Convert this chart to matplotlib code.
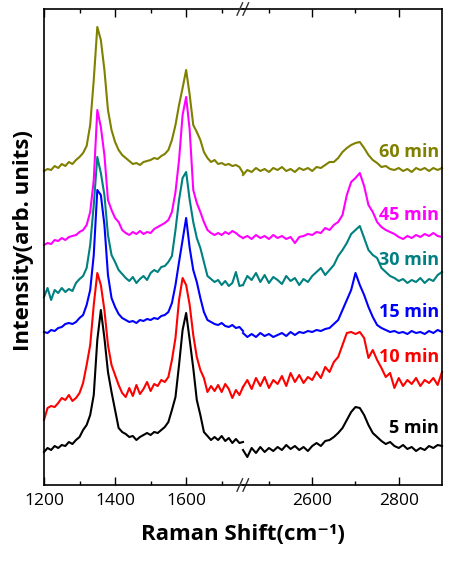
import matplotlib
matplotlib.use("Agg")
import matplotlib.pyplot as plt
import numpy as np

plt.rcParams['font.family'] = ['Open Sans', 'DejaVu Sans']

# Raman shift grids for the two halves of the broken axis
x_low = np.arange(1200, 1761, 10)
x_high = np.arange(2440, 2901, 10)

labels = ["5 min", "10 min", "15 min", "30 min", "45 min", "60 min"]
colors = ["#000000", "#ff0000", "#0000ff", "#008080", "#ff00ff", "#808000"]

# intensity (arb. units, offset stacked)
low_5 = [33, 37, 35, 39, 37, 40, 39, 43, 41, 45, 48, 55, 60, 70, 90, 145, 175, 147, 113, 93,
         75, 57, 53, 51, 48, 49, 45, 48, 50, 52, 50, 53, 52, 55, 58, 63, 75, 88, 120, 155,
         172, 145, 117, 85, 70, 53, 49, 45, 48, 45, 49, 44, 47, 42, 46, 42, 43]
low_10 = [65, 77, 79, 78, 82, 87, 85, 90, 84, 87, 92, 102, 120, 140, 180, 212, 200, 175, 140, 120,
          110, 100, 92, 88, 97, 89, 100, 91, 96, 103, 94, 101, 99, 105, 103, 108, 125, 147, 185, 207,
          200, 180, 150, 128, 115, 107, 93, 99, 94, 100, 93, 101, 96, 87, 95, 90, 98]
low_15 = [153, 152, 155, 154, 157, 158, 161, 162, 161, 163, 167, 170, 180, 195, 230, 295, 290, 260, 210, 187,
          178, 171, 167, 165, 163, 164, 162, 165, 164, 166, 165, 167, 166, 169, 170, 173, 182, 200, 223, 245,
          267, 237, 215, 203, 187, 173, 165, 163, 161, 160, 162, 159, 158, 160, 157, 158, 154]
low_30 = [188, 197, 185, 195, 192, 197, 193, 196, 194, 202, 206, 209, 217, 240, 280, 328, 312, 290, 250, 230,
          223, 215, 211, 207, 204, 208, 202, 206, 209, 205, 212, 215, 213, 218, 219, 223, 229, 255, 285, 307,
          313, 285, 263, 247, 237, 223, 209, 206, 203, 205, 200, 204, 199, 202, 213, 199, 200]
low_45 = [240, 242, 241, 245, 244, 247, 245, 248, 249, 250, 253, 255, 260, 273, 305, 375, 358, 330, 285, 275,
          267, 263, 255, 252, 250, 253, 251, 254, 251, 253, 252, 256, 258, 260, 262, 265, 273, 293, 325, 370,
          388, 355, 295, 282, 273, 263, 255, 252, 250, 252, 250, 253, 251, 254, 252, 249, 247]
low_60 = [314, 316, 315, 319, 317, 321, 319, 323, 321, 325, 328, 332, 339, 360, 405, 458, 445, 415, 375, 355,
          343, 335, 330, 327, 324, 321, 322, 320, 323, 324, 325, 327, 326, 329, 331, 335, 345, 360, 380, 397,
          415, 390, 360, 353, 345, 333, 327, 323, 325, 321, 322, 320, 321, 319, 320, 318, 312]

high_5 = [35, 28, 37, 32, 38, 33, 37, 34, 38, 35, 40, 36, 39, 35, 38, 34, 39, 42, 39, 44,
          45, 48, 52, 57, 65, 73, 78, 77, 70, 60, 52, 48, 44, 41, 43, 39, 37, 40, 36, 38,
          34, 37, 35, 39, 37, 40, 39]
high_10 = [98, 105, 96, 107, 99, 108, 97, 105, 101, 109, 99, 112, 103, 110, 102, 108, 105, 113, 107, 118,
           113, 123, 128, 140, 152, 153, 151, 153, 147, 127, 135, 125, 117, 108, 112, 97, 107, 99, 105, 101,
           107, 99, 105, 102, 107, 100, 113]
high_15 = [152, 148, 151, 148, 152, 149, 151, 148, 150, 152, 149, 153, 150, 153, 152, 154, 153, 155, 154, 156,
           157, 161, 165, 175, 185, 195, 212, 200, 190, 178, 168, 160, 157, 155, 153, 154, 152, 153, 151, 154,
           152, 153, 151, 154, 152, 155, 153]
high_30 = [200, 209, 205, 212, 203, 210, 202, 208, 205, 201, 209, 204, 207, 200, 206, 203, 209, 213, 217, 210,
           215, 220, 229, 235, 242, 251, 255, 259, 247, 235, 230, 227, 217, 213, 209, 207, 204, 206, 202, 205,
           203, 207, 202, 206, 204, 210, 213]
high_45 = [247, 249, 246, 250, 247, 249, 246, 250, 247, 249, 246, 248, 242, 248, 249, 251, 250, 253, 252, 257,
           255, 260, 263, 270, 290, 303, 307, 312, 299, 280, 273, 263, 258, 255, 253, 251, 248, 246, 249, 247,
           250, 248, 251, 249, 252, 249, 248]
high_60 = [310, 315, 313, 317, 314, 316, 313, 317, 315, 318, 314, 316, 313, 317, 315, 317, 314, 318, 317, 320,
           323, 323, 327, 333, 337, 340, 342, 343, 337, 330, 325, 322, 318, 319, 316, 315, 317, 314, 316, 313,
           317, 315, 317, 314, 317, 315, 317]

low_series = [low_5, low_10, low_15, low_30, low_45, low_60]
high_series = [high_5, high_10, high_15, high_30, high_45, high_60]
label_y = [57, 128, 173, 225, 270, 333]

fig = plt.figure(figsize=(4.52, 5.62), dpi=100)
ax1 = fig.add_axes([44/452, 77/562, 199/452, 476/562])
ax2 = fig.add_axes([243/452, 77/562, 199/452, 476/562], sharey=ax1)
ax1.patch.set_visible(False)
ax2.patch.set_visible(False)

for lo, hi, c in zip(low_series, high_series, colors):
    ax1.plot(x_low, lo, color=c, lw=1.5, clip_on=False)
    ax2.plot(x_high, hi, color=c, lw=1.5, clip_on=False)

for lab, yv, c in zip(labels, label_y, colors):
    ax2.text(2893, yv, lab, color=c, ha='right', va='center', fontsize=13, fontweight='bold')

ax1.set_xlim(1200, 1760)
ax2.set_xlim(2440, 2900)
ax1.set_ylim(0, 476)

ax1.set_xticks([1200, 1400, 1600])
ax1.set_xticks([1300, 1500, 1700], minor=True)
ax2.set_xticks([2600, 2800])
ax2.set_xticks([2500, 2700], minor=True)

for ax in (ax1, ax2):
    ax.tick_params(axis='x', which='both', direction='in', top=True, bottom=True,
                   labelsize=12.5, pad=6, width=1)
    ax.tick_params(axis='x', which='major', length=6)
    ax.tick_params(axis='x', which='minor', length=3)
    ax.tick_params(axis='y', left=False, right=False, labelleft=False, labelright=False)
    for s in ax.spines.values():
        s.set_linewidth(1.2)

ax1.spines['right'].set_visible(False)
ax2.spines['left'].set_visible(False)

# break marks
for yb in (0, 1):
    for xo in (0.970, 1.0):
        ax1.plot([xo, xo + 0.028], [yb - 0.013, yb + 0.013], color='#333333', lw=1,
                 transform=ax1.transAxes, clip_on=False, zorder=5)

fig.text(243/452, 1 - 535/562, "Raman Shift(cm\u207b\u00b9)", ha='center', va='center',
         fontsize=16, fontweight='bold')
fig.text(24/452, 1 - 241/562, "Intensity(arb. units)", ha='center', va='center',
         rotation=90, fontsize=16, fontweight='bold')

fig.savefig("out.png", dpi=100)
